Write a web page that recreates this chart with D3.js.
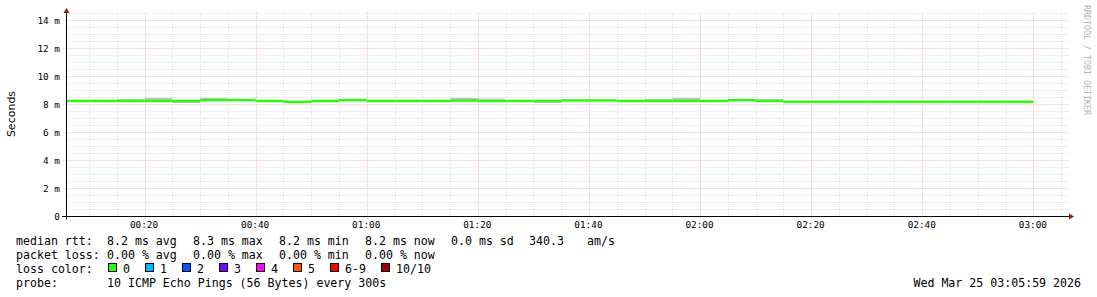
<!DOCTYPE html>
<html>
<head>
<meta charset="utf-8">
<script src="https://cdn.jsdelivr.net/npm/d3@7"></script>
<style>
  html, body { margin: 0; padding: 0; background: #fff; }
  svg { display: block; }
  text { font-family: "DejaVu Sans Mono", monospace; fill: #000; }
</style>
</head>
<body>
<div id="chart"></div>
<script>
// 5 minute steps, start minute after 00:00
const stepStart = [5, 10, 15, 20, 25, 30, 35, 40, 45, 50, 55, 60, 65, 70, 75, 80, 85, 90,
  95, 100, 105, 110, 115, 120, 125, 130, 135, 140, 145, 150, 155, 160, 165, 170, 175];
// median rtt in ms
const median = [8.25, 8.25, 8.25, 8.25, 8.25, 8.31, 8.31, 8.25, 8.18, 8.25, 8.31, 8.25, 8.25, 8.25,
  8.28, 8.24, 8.25, 8.25, 8.29, 8.29, 8.25, 8.25, 8.25, 8.25, 8.31, 8.25,
  8.20, 8.20, 8.20, 8.20, 8.20, 8.20, 8.20, 8.20, 8.20];
// smoke (spread of the pings) in ms
const smokeLo = [8.22, 8.22, 8.22, 8.22, 8.11, 8.25, 8.25, 8.22, 8.15, 8.22, 8.28, 8.22, 8.22, 8.22,
  8.24, 8.20, 8.22, 8.10, 8.26, 8.26, 8.22, 8.22, 8.22, 8.22, 8.28, 8.22,
  8.16, 8.16, 8.16, 8.16, 8.16, 8.16, 8.16, 8.16, 8.16];
const smokeHi = [8.28, 8.28, 8.40, 8.47, 8.28, 8.47, 8.35, 8.28, 8.21, 8.28, 8.34, 8.28, 8.28, 8.28,
  8.47, 8.42, 8.28, 8.28, 8.32, 8.32, 8.28, 8.40, 8.47, 8.28, 8.34, 8.40,
  8.24, 8.24, 8.24, 8.24, 8.24, 8.24, 8.24, 8.24, 8.24];

const xTickLabels = ["00:20", "00:40", "01:00", "01:20", "01:40", "02:00", "02:20", "02:40", "03:00"];
const yTickValues = [0, 2, 4, 6, 8, 10, 12, 14];
const yTickLabels = ["0", "2 m", "4 m", "6 m", "8 m", "10 m", "12 m", "14 m"];

const rttStats = ["8.2 ms avg", "8.3 ms max", "8.2 ms min", "8.2 ms now", "0.0 ms sd", "340.3", "am/s"];
const lossStats = ["0.00 % avg", "0.00 % max", "0.00 % min", "0.00 % now"];
const lossLabels = ["0", "1", "2", "3", "4", "5", "6-9", "10/10"];
const lossColors = ["#26ff00", "#00b8ff", "#0059ff", "#7e00ff", "#ff00ff", "#ff5500", "#ff0000", "#a10000"];
const probeText = "10 ICMP Echo Pings (56 Bytes) every 300s";
const stampText = "Wed Mar 25 03:05:59 2026";

const W = 1097, H = 297;
const plotLeft = 66.5, plotTop = 12, plotBottom = 216.5;

const svg = d3.select("#chart").append("svg")
    .attr("width", W)
    .attr("height", H);

// minutes -> px, ms -> px
const x = d3.scaleLinear().domain([6.05, 186.05]).range([67, 1067]);
const y = d3.scaleLinear().domain([0, 14.6]).range([plotBottom, plotBottom - 14.6 * 14]);

const toMin = s => +s.slice(0, 2) * 60 + +s.slice(3);

// grid
const grid = svg.append("g");
const minorX = d3.range(10, 186, 5).filter(t => t % 20 !== 0);
const majorX = xTickLabels.map(toMin);
const minorY = d3.range(0.5, 14.6, 0.5).filter(v => v % 2 !== 0);
const majorY = yTickValues.filter(v => v > 0);
const minorCol = "#dedede", majorCol = "#f2c0c0";

grid.selectAll(".vmin").data(minorX).enter().append("line")
    .attr("x1", d => Math.round(x(d)) + 0.5).attr("x2", d => Math.round(x(d)) + 0.5)
    .attr("y1", plotTop).attr("y2", plotBottom)
    .attr("stroke", minorCol).attr("stroke-dasharray", "1,1");
grid.selectAll(".hmin").data(minorY).enter().append("line")
    .attr("x1", plotLeft).attr("x2", 1069)
    .attr("y1", d => y(d)).attr("y2", d => y(d))
    .attr("stroke", minorCol).attr("stroke-dasharray", "1,1");
grid.selectAll(".vmaj").data(majorX).enter().append("line")
    .attr("x1", d => Math.round(x(d)) + 0.5).attr("x2", d => Math.round(x(d)) + 0.5)
    .attr("y1", plotTop).attr("y2", plotBottom + 2)
    .attr("stroke", majorCol).attr("stroke-dasharray", "1,1");
grid.selectAll(".hmaj").data(majorY).enter().append("line")
    .attr("x1", plotLeft - 3).attr("x2", 1069)
    .attr("y1", d => y(d)).attr("y2", d => y(d))
    .attr("stroke", majorCol).attr("stroke-dasharray", "1,1");

// smoke
const stepEnd = d => Math.min(x(d + 5), x.range()[1]);
const stepBegin = d => Math.max(x(d), x.range()[0]);
svg.append("g").selectAll("rect").data(stepStart).enter().append("rect")
    .attr("x", d => stepBegin(d))
    .attr("width", d => stepEnd(d) - stepBegin(d))
    .attr("y", (d, i) => y(smokeHi[i]))
    .attr("height", (d, i) => y(smokeLo[i]) - y(smokeHi[i]))
    .attr("fill", "#c4c4c4");

// median (loss 0 -> green)
svg.append("g").selectAll("rect").data(stepStart).enter().append("rect")
    .attr("x", d => stepBegin(d))
    .attr("width", d => stepEnd(d) - stepBegin(d))
    .attr("y", (d, i) => y(median[i]) - 1.2)
    .attr("height", 2.4)
    .attr("fill", lossColors[0]);

// axes
svg.append("line").attr("x1", 62).attr("x2", 1069).attr("y1", plotBottom).attr("y2", plotBottom)
    .attr("stroke", "#000");
svg.append("line").attr("x1", plotLeft).attr("x2", plotLeft).attr("y1", plotBottom + 3).attr("y2", 13)
    .attr("stroke", "#000");
svg.append("path").attr("d", `M${plotLeft - 3},13 L${plotLeft + 3},13 L${plotLeft},8 Z`).attr("fill", "#8c1c1c");
svg.append("path").attr("d", `M1069,${plotBottom - 3} L1069,${plotBottom + 3} L1074,${plotBottom} Z`).attr("fill", "#8c1c1c");

// tick labels
svg.append("g").selectAll("text").data(yTickValues).enter().append("text")
    .attr("x", 60).attr("y", d => y(d) + 3.3)
    .attr("text-anchor", "end")
    .style("font-size", "9.4px")
    .text((d, i) => yTickLabels[i]);
svg.append("g").selectAll("text").data(xTickLabels).enter().append("text")
    .attr("x", d => x(toMin(d)) - 0.5).attr("y", 228)
    .attr("text-anchor", "middle")
    .style("font-size", "9.4px")
    .text(d => d);

// y title
svg.append("text")
    .attr("transform", "translate(14.5,114) rotate(-90)")
    .attr("text-anchor", "middle")
    .style("font-family", "'DejaVu Sans', sans-serif")
    .style("font-size", "11px")
    .text("Seconds");

// watermark
svg.append("text")
    .attr("transform", "translate(1084,5) rotate(90)")
    .style("font-size", "8.3px")
    .style("fill", "#b4b4b4")
    .text("RRDTOOL / TOBI OETIKER");

// legend
const lg = svg.append("g").style("font-size", "11.6px").attr("xml:space", "preserve");
const row = [245, 259, 273, 287];
const statX = [107, 193, 279, 365, 451, 529, 587];
lg.append("text").attr("x", 16).attr("y", row[0]).text("median rtt:");
lg.selectAll(".rtt").data(rttStats).enter().append("text")
    .attr("x", (d, i) => statX[i]).attr("y", row[0]).text(d => d);
lg.append("text").attr("x", 16).attr("y", row[1]).text("packet loss:");
lg.selectAll(".loss").data(lossStats).enter().append("text")
    .attr("x", (d, i) => statX[i]).attr("y", row[1]).text(d => d);
lg.append("text").attr("x", 16).attr("y", row[2]).text("loss color:");
const boxX = [108, 145, 182, 219, 256, 293, 330, 381];
const items = lg.selectAll(".lc").data(lossLabels).enter().append("g")
    .attr("transform", (d, i) => `translate(${boxX[i]},0)`);
items.append("rect")
    .attr("x", 0.5).attr("y", row[2] - 9.5).attr("width", 8).attr("height", 8)
    .attr("fill", (d, i) => lossColors[i]).attr("stroke", "#000");
items.append("text").attr("x", 15).attr("y", row[2]).text(d => d);
lg.append("text").attr("x", 16).attr("y", row[3]).text("probe:");
lg.append("text").attr("x", 107).attr("y", row[3]).text(probeText);
lg.append("text").attr("x", 1081).attr("y", row[3]).attr("text-anchor", "end").text(stampText);
</script>
</body>
</html>
